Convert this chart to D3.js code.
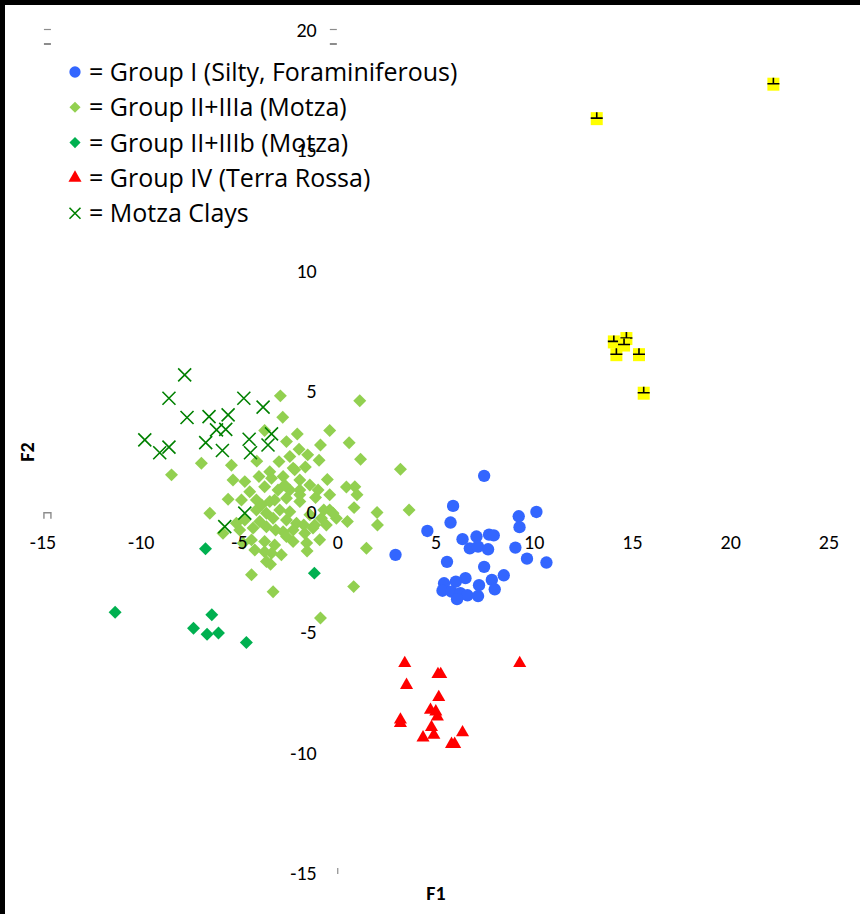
<!DOCTYPE html>
<html>
<head>
<meta charset="utf-8">
<script src="https://cdn.jsdelivr.net/npm/d3@7"></script>
<style>
  html, body { margin: 0; padding: 0; background: #fff; }
  svg { display: block; }
  text { font-family: Carlito, Calibri, Lato, sans-serif; }
</style>
</head>
<body>
<svg id="chart"></svg>
<script>
const width = 860;
const height = 914;

// scores [F1, F2]
const groupI = [
  [7.45, 1.49], [5.87, 0.24], [10.11, -0.01], [9.21, -0.19], [5.74, -0.45], [4.56, -0.80],
  [9.25, -0.64], [6.35, -1.14], [7.06, -1.03], [7.70, -0.95], [7.94, -0.98], [6.72, -1.52],
  [7.14, -1.45], [7.65, -1.56], [9.04, -1.49], [2.94, -1.79], [5.56, -2.08], [9.63, -1.95],
  [10.62, -2.11], [7.45, -2.29], [8.45, -2.64], [7.84, -2.83], [7.99, -3.22], [6.50, -2.76],
  [6.01, -2.90], [5.41, -2.97], [7.19, -3.05], [5.33, -3.28], [5.79, -3.32], [6.24, -3.38],
  [6.60, -3.47], [6.07, -3.63], [7.14, -3.50]
];

const groupIIIa = [
  [-2.92, 4.81], [1.12, 4.61], [-2.80, 3.92], [-0.41, 3.37], [-3.72, 3.37], [-2.06, 3.23],
  [0.58, 2.86], [-2.61, 2.91], [-0.88, 2.77], [-1.97, 2.59], [1.16, 2.18], [-0.95, 2.14],
  [3.19, 1.76], [-6.94, 2.01], [-8.46, 1.53], [-5.41, 1.93], [-4.12, 2.10], [-2.99, 2.08],
  [-2.44, 2.29], [-1.53, 2.36], [-2.27, 1.81], [-1.65, 1.86], [-3.46, 1.66], [-5.33, 1.32],
  [-4.73, 1.25], [-4.01, 1.46], [-3.37, 1.39], [-2.78, 1.46], [-1.93, 1.32], [-0.53, 1.34],
  [-1.42, 1.11], [-1.00, 0.90], [-2.44, 0.90], [-3.04, 0.90], [-3.72, 1.04], [-4.48, 0.83],
  [-5.58, 0.52], [-4.90, 0.49], [-4.14, 0.49], [-3.46, 0.42], [-2.61, 0.56], [-1.93, 0.42],
  [-1.13, 0.59], [-0.41, 0.07], [-6.51, -0.06], [-4.14, 0.07], [-3.63, -0.06], [-2.95, 0.07],
  [-2.44, 0.00], [-4.73, -0.34], [-3.97, -0.41], [-3.29, -0.27], [-2.61, -0.34], [-2.10, -0.48],
  [-0.83, -0.27], [-0.07, -0.27], [-0.58, -0.55], [-5.16, -0.48], [-4.31, -0.68], [-3.63, -0.62],
  [-2.78, -0.83], [-2.27, -0.76], [-1.68, -0.89], [-1.26, -0.68], [-4.39, -1.17], [-3.72, -1.24],
  [-3.21, -1.38], [-2.61, -1.03], [-2.27, -1.24], [-1.58, -1.30], [-4.22, -1.59], [-3.72, -1.66],
  [-3.37, -1.72], [-3.63, -2.07], [-2.87, -1.79], [-4.82, -1.31], [-5.84, -0.89], [0.44, 1.03],
  [0.87, 1.04], [0.98, 0.70], [0.83, 0.17], [2.00, -0.03], [3.63, 0.07], [-0.71, 0.07],
  [0.49, -0.41], [2.02, -0.55], [-1.17, -0.55], [-1.56, -1.63], [1.46, -1.52], [0.81, -3.11],
  [-0.88, -4.41], [-3.29, -3.32], [-4.39, -2.62], [-3.42, -2.18], [-0.24, -0.06], [-1.93, 0.90],
  [-1.93, 0.70], [-1.42, -0.13], [-3.21, 0.49], [-3.87, 0.28], [-2.19, 1.74], [-2.70, 1.11],
  [-1.73, -0.55], [-4.99, -0.76], [-0.92, -1.16], [-3.16, -0.76], [-0.41, 0.70]
];

const groupIIIb = [
  [-6.73, -1.54], [-1.19, -2.55], [-11.33, -4.17], [-6.41, -4.28], [-7.34, -4.84],
  [-6.65, -5.09], [-6.07, -5.04], [-4.65, -5.43]
];

const groupIV = [
  [3.41, -6.29], [9.26, -6.29], [5.10, -6.75], [5.24, -6.75], [3.50, -7.20], [5.14, -7.70],
  [4.72, -8.23], [4.99, -8.30], [5.07, -8.51], [3.19, -8.64], [3.19, -8.78], [4.77, -8.95],
  [4.89, -9.27], [4.34, -9.38], [6.35, -9.17], [5.79, -9.65], [5.95, -9.65]
];

const motzaClays = [
  [-7.79, 5.68], [-8.59, 4.71], [-4.78, 4.71], [-3.80, 4.34], [-7.67, 3.91], [-6.55, 3.95],
  [-5.58, 4.02], [-6.17, 3.40], [-5.70, 3.42], [-3.37, 3.23], [-9.82, 2.98], [-6.72, 2.87],
  [-4.51, 3.01], [-3.55, 2.77], [-8.59, 2.68], [-9.06, 2.45], [-5.87, 2.54], [-4.44, 2.45],
  [-4.73, -0.06], [-5.75, -0.62]
];

const unlabelled = [
  [22.17, 17.75], [13.18, 16.32], [14.05, 7.05], [14.69, 7.19], [14.57, 6.92],
  [14.18, 6.52], [15.33, 6.52], [15.57, 4.92]
];

const xTicks = [-15, -10, -5, 0, 5, 10, 15, 20, 25];
const yTicks = [20, 15, 10, 5, 0, -5, -10, -15];

const legendLabels = [
  "= Group I (Silty, Foraminiferous)",
  "= Group II+IIIa (Motza)",
  "= Group II+IIIb (Motza)",
  "= Group IV (Terra Rossa)",
  "= Motza Clays"
];

const x = d3.scaleLinear().domain([-15, 25]).range([43, 829]);
const y = d3.scaleLinear().domain([-15, 20]).range([873, 30]);

const svg = d3.select("#chart")
  .attr("width", width)
  .attr("height", height);

svg.append("rect")
  .attr("width", width)
  .attr("height", height)
  .attr("fill", "#fff");

// marker shapes
const circle = d3.symbol().type(d3.symbolCircle).size(120)();
const square = d3.symbol().type(d3.symbolSquare).size(84)();
const triangle = d3.symbol().type(d3.symbolTriangle).size(74)();
const cross = "M-6.5,-6.5L6.5,6.5M-6.5,6.5L6.5,-6.5";

const marks = svg.append("g");

function plot(data, path, attrs, rotate) {
  const sel = marks.append("g").selectAll("path")
    .data(data)
    .enter()
    .append("path")
    .attr("d", path)
    .attr("transform", d => `translate(${x(d[0])},${y(d[1])})` + (rotate ? " rotate(45)" : ""));
  Object.entries(attrs).forEach(([k, v]) => sel.attr(k, v));
}

plot(groupI, circle, { fill: "#3366ff" });
plot(groupIIIa, square, { fill: "#92d050" }, true);
plot(groupIIIb, square, { fill: "#00b050" }, true);
plot(groupIV, triangle, { fill: "#ff0000" });
plot(motzaClays, cross, { fill: "none", stroke: "#008000", "stroke-width": 1.6 });

// yellow markers
const yel = marks.append("g").selectAll("g")
  .data(unlabelled)
  .enter()
  .append("g")
  .attr("transform", d => `translate(${x(d[0])},${y(d[1])})`);
yel.append("rect")
  .attr("x", -6).attr("y", -6.5)
  .attr("width", 12).attr("height", 13)
  .attr("fill", "#ffff00");
yel.append("path")
  .attr("d", "M-6,-0.5H6M0,-6.5V-0.5")
  .attr("stroke", "#000")
  .attr("stroke-width", 1.6)
  .attr("fill", "none");

// leftover axis bits (grey)
const grey = svg.append("g").attr("stroke", "#8c8c8c").attr("stroke-width", 2).attr("fill", "none");
[[x(-14.8), y(20)], [x(-0.25), y(20)]].forEach(p => {
  grey.append("path").attr("d", `M${p[0] - 3},${p[1] - 0.5}h7`).attr("stroke-width", 1.2);
  grey.append("path").attr("d", `M${p[0] - 3},${p[1] + 14}h7`);
});
grey.append("path").attr("d", `M${x(-14.8) - 3},${y(0) + 7}V${y(0) + 1}H${x(-14.8) + 4}V${y(0) + 7}`).attr("stroke-width", 1.4);
grey.append("path").attr("d", `M${x(0)},${y(-15) - 5}v6`).attr("stroke-width", 1.2);

// tick labels
const labels = svg.append("g").attr("fill", "#000").style("font-size", "20px");
labels.selectAll(".xl")
  .data(xTicks)
  .enter()
  .append("text")
  .attr("x", d => x(d))
  .attr("y", y(0) + 30)
  .attr("text-anchor", "middle")
  .attr("dominant-baseline", "central")
  .text(d => d);
labels.selectAll(".yl")
  .data(yTicks)
  .enter()
  .append("text")
  .attr("x", x(0) - 21)
  .attr("y", d => y(d))
  .attr("text-anchor", "end")
  .attr("dominant-baseline", "central")
  .text(d => d);

// axis titles
svg.append("text")
  .attr("x", 436)
  .attr("y", 893)
  .attr("text-anchor", "middle")
  .attr("dominant-baseline", "central")
  .style("font-size", "20px")
  .style("font-weight", "bold")
  .text("F1");
svg.append("text")
  .attr("transform", "translate(27,452) rotate(-90)")
  .attr("text-anchor", "middle")
  .attr("dominant-baseline", "central")
  .style("font-size", "20px")
  .style("font-weight", "bold")
  .text("F2");

// legend
const legendShapes = [
  { d: d3.symbol().type(d3.symbolCircle).size(100)(), fill: "#3366ff", rot: false },
  { d: d3.symbol().type(d3.symbolSquare).size(62)(), fill: "#92d050", rot: true },
  { d: d3.symbol().type(d3.symbolSquare).size(62)(), fill: "#00b050", rot: true },
  { d: triangle, fill: "#ff0000", rot: false },
  { d: "M-5.5,-5.5L5.5,5.5M-5.5,5.5L5.5,-5.5", fill: "none", stroke: "#008000", rot: false }
];
const legend = svg.append("g");
const item = legend.selectAll("g")
  .data(legendLabels)
  .enter()
  .append("g")
  .attr("transform", (d, i) => `translate(75, ${72 + i * 35.3})`);
item.append("path")
  .attr("d", (d, i) => legendShapes[i].d)
  .attr("fill", (d, i) => legendShapes[i].fill)
  .attr("stroke", (d, i) => legendShapes[i].stroke || "none")
  .attr("stroke-width", 1.6)
  .attr("transform", (d, i) => legendShapes[i].rot ? "rotate(45)" : null);
item.append("text")
  .attr("x", 14)
  .attr("y", -1)
  .attr("dominant-baseline", "central")
  .style("font-family", "'Open Sans', sans-serif")
  .style("font-size", "25px")
  .attr("fill", "#000")
  .text(d => d);

// black frame edges
svg.append("rect").attr("x", 0).attr("y", 0).attr("width", width).attr("height", 5).attr("fill", "#000");
svg.append("rect").attr("x", 0).attr("y", 0).attr("width", 5).attr("height", height).attr("fill", "#000");
</script>
</body>
</html>
